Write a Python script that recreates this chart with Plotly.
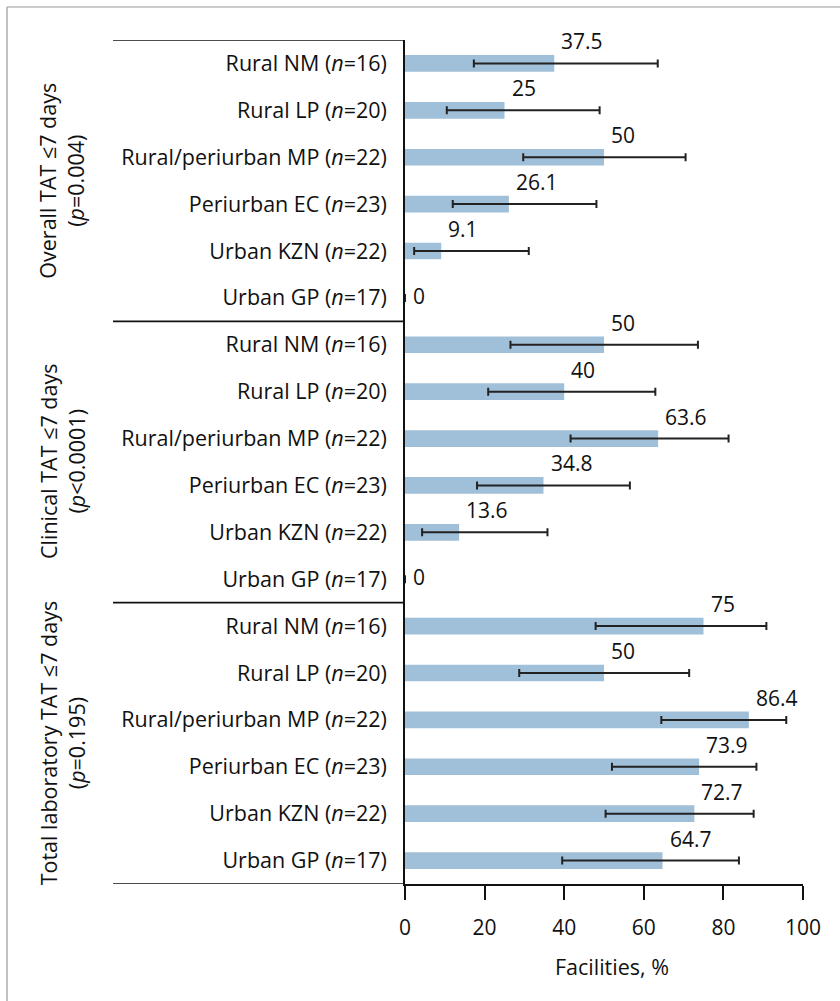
import plotly.graph_objects as go

# ---- data ----
sites = ["Rural NM (<i>n</i>=16)", "Rural LP (<i>n</i>=20)", "Rural/periurban MP (<i>n</i>=22)",
         "Periurban EC (<i>n</i>=23)", "Urban KZN (<i>n</i>=22)", "Urban GP (<i>n</i>=17)"]
groups = ["Overall TAT ≤7 days<br>(<i>p</i>=0.004)",
          "Clinical TAT ≤7 days<br>(<i>p</i><0.0001)",
          "Total laboratory TAT ≤7 days<br>(<i>p</i>=0.195)"]

overall = [37.5, 25, 50, 26.1, 9.1, 0]
overall_lo = [17.3, 10.5, 29.7, 12.0, 2.3, 0]
overall_hi = [63.5, 48.9, 70.5, 48.1, 31.1, 0]

clinical = [50, 40, 63.6, 34.8, 13.6, 0]
clinical_lo = [26.5, 20.9, 41.6, 18.1, 4.3, 0]
clinical_hi = [73.6, 62.9, 81.3, 56.5, 35.8, 0]

lab = [75, 50, 86.4, 73.9, 72.7, 64.7]
lab_lo = [47.9, 28.7, 64.4, 52.0, 50.4, 39.5]
lab_hi = [90.8, 71.4, 95.8, 88.3, 87.6, 83.9]

value_labels = ["37.5", "25", "50", "26.1", "9.1", "0",
                "50", "40", "63.6", "34.8", "13.6", "0",
                "75", "50", "86.4", "73.9", "72.7", "64.7"]

x_ticks = [0, 20, 40, 60, 80, 100]

# ---- assemble ----
vals = overall + clinical + lab
lo = overall_lo + clinical_lo + lab_lo
hi = overall_hi + clinical_hi + lab_hi
labels = sites * 3
idx = list(range(len(vals)))

FONT = "Open Sans"
FS = 21.5
W, H = 840, 1001
L, R, T, B = 405, 803, 40, 884

fig = go.Figure()
fig.add_trace(go.Bar(
    x=vals, y=idx, orientation="h", width=0.355,
    marker=dict(color="#a0bfd9", line=dict(width=0)),
    error_x=dict(type="data", symmetric=False,
                 array=[h - v for h, v in zip(hi, vals)],
                 arrayminus=[v - l for v, l in zip(vals, lo)],
                 color="#222222", thickness=2, width=4),
    showlegend=False, hoverinfo="skip",
))

ann = []
for i, (v, t) in enumerate(zip(vals, value_labels)):
    ann.append(dict(x=v, y=i, xref="x", yref="y", text=t, showarrow=False,
                    xanchor="left", yanchor="middle", xshift=5 if v > 0 else 6,
                    yshift=22 if v > 0 else 2,
                    font=dict(family=FONT, size=21, color="#111")))

px = lambda p: (p - L) / (R - L)
for g, text in enumerate(groups):
    ann.append(dict(x=px(62), y=g * 6 + 2.5, xref="paper", yref="y", text=text,
                    showarrow=False, textangle=-90, xanchor="center", yanchor="middle",
                    align="center", font=dict(family=FONT, size=FS, color="#111")))

ann.append(dict(x=px(612), y=-(966 - B) / (B - T), xref="paper", yref="paper",
                text="Facilities, %", showarrow=False, xanchor="center", yanchor="middle",
                font=dict(family=FONT, size=FS, color="#111")))

shapes = []
for b in [-0.5, 5.5, 11.5, 17.5]:
    shapes.append(dict(type="line", xref="paper", yref="y", x0=px(113), x1=0,
                       y0=b, y1=b, line=dict(color="#111", width=1.6)))
ytop = (H - 7 - (H - B)) / (B - T)
shapes.append(dict(type="line", xref="paper", yref="paper", x0=px(7), x1=px(W),
                   y0=ytop, y1=ytop, line=dict(color="#999", width=1.2)))
shapes.append(dict(type="line", xref="paper", yref="paper", x0=px(7), x1=px(7),
                   y0=ytop, y1=-(H - B) / (B - T), line=dict(color="#999", width=1.2)))

fig.update_layout(
    width=W, height=H,
    margin=dict(l=L, r=W - R, t=T, b=H - B, pad=0),
    paper_bgcolor="white", plot_bgcolor="white",
    font=dict(family=FONT, size=FS, color="#111"),
    annotations=ann, shapes=shapes,
    xaxis=dict(range=[0, 100], tickvals=x_ticks, ticks="outside", ticklen=14,
               tickwidth=1.6, tickcolor="#111", showline=True, linecolor="#111",
               linewidth=1.6, showgrid=False, zeroline=False, ticklabelstandoff=10,
               tickfont=dict(family=FONT, size=21, color="#111")),
    yaxis=dict(range=[17.5, -0.5], tickvals=idx, ticktext=labels, ticks="",
               showline=True, linecolor="#111", linewidth=1.6, showgrid=False,
               zeroline=False, ticklabelstandoff=12,
               tickfont=dict(family=FONT, size=FS, color="#111")),
)

fig.write_html("out.html")
